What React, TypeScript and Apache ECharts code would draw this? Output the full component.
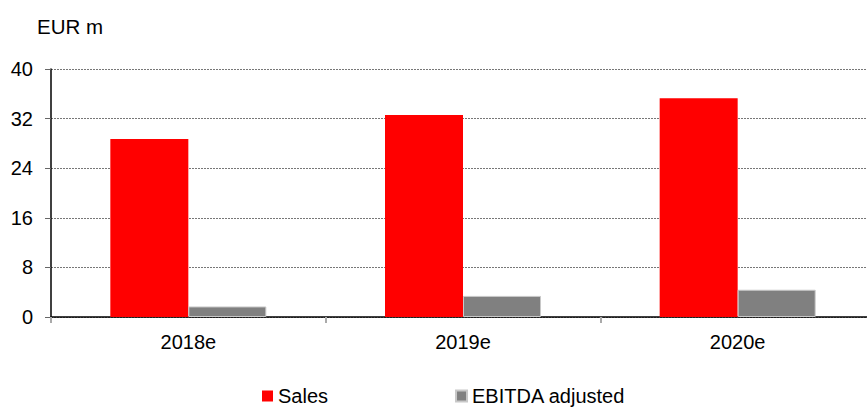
import React, { useEffect, useRef } from "react";
import * as echarts from "echarts";

// Forecast years and values (EUR m)
const categories = ["2018e", "2019e", "2020e"];
const sales = [28.7, 32.6, 35.3];
const ebitdaAdjusted = [1.7, 3.4, 4.4];
const yTicks = { min: 0, max: 40, interval: 8 };

const FONT = "'Liberation Sans', Arial, sans-serif";

export default function App() {
  const ref = useRef<HTMLDivElement>(null);

  useEffect(() => {
    if (!ref.current) return;
    const chart = echarts.init(ref.current, null, { renderer: "svg" });
    chart.setOption({
      animation: false,
      backgroundColor: "#ffffff",
      textStyle: { fontFamily: FONT, color: "#000" },
      graphic: [
        {
          type: "text",
          left: 37,
          top: 16,
          style: { text: "EUR m", font: `20.5px ${FONT}`, fill: "#000" },
        },
      ],
      legend: {
        left: 262,
        top: 386,
        padding: 0,
        itemWidth: 11,
        itemHeight: 11,
        itemGap: 127,
        icon: "rect",
        textStyle: { fontSize: 20, lineHeight: 16, fontFamily: FONT, color: "#000" },
        data: ["Sales", "EBITDA adjusted"],
      },
      // the plot runs slightly past the right edge of the canvas
      grid: {
        left: 51,
        top: 69,
        width: 824,
        height: 248,
        containLabel: false,
        outerBoundsMode: "none",
      },
      xAxis: {
        type: "category",
        data: categories,
        axisLine: { lineStyle: { color: "#000", width: 1.5 } },
        axisTick: { show: true, length: 6, lineStyle: { color: "#aaa", width: 2 } },
        axisLabel: { fontSize: 20, fontFamily: FONT, color: "#000", margin: 15 },
      },
      yAxis: {
        type: "value",
        min: yTicks.min,
        max: yTicks.max,
        interval: yTicks.interval,
        axisLine: { show: true, lineStyle: { color: "#000", width: 1.5 } },
        axisTick: { show: true, length: 6, lineStyle: { color: "#666" } },
        axisLabel: { fontSize: 20, fontFamily: FONT, color: "#000", margin: 18 },
        splitLine: { show: true, lineStyle: { color: "#777", type: [2, 1], width: 1 } },
      },
      series: [
        {
          name: "Sales",
          type: "bar",
          data: sales,
          barWidth: 78,
          barGap: "0%",
          itemStyle: { color: "#ff0000" },
        },
        {
          name: "EBITDA adjusted",
          type: "bar",
          data: ebitdaAdjusted,
          barWidth: 78,
          barGap: "0%",
          itemStyle: { color: "#808080", borderColor: "#c8c8c8", borderWidth: 1 },
        },
      ],
    });
    return () => chart.dispose();
  }, []);

  return (
    <div
      ref={ref}
      style={{ position: "absolute", left: 0, top: 0, width: 867, height: 409, background: "#fff" }}
    />
  );
}
